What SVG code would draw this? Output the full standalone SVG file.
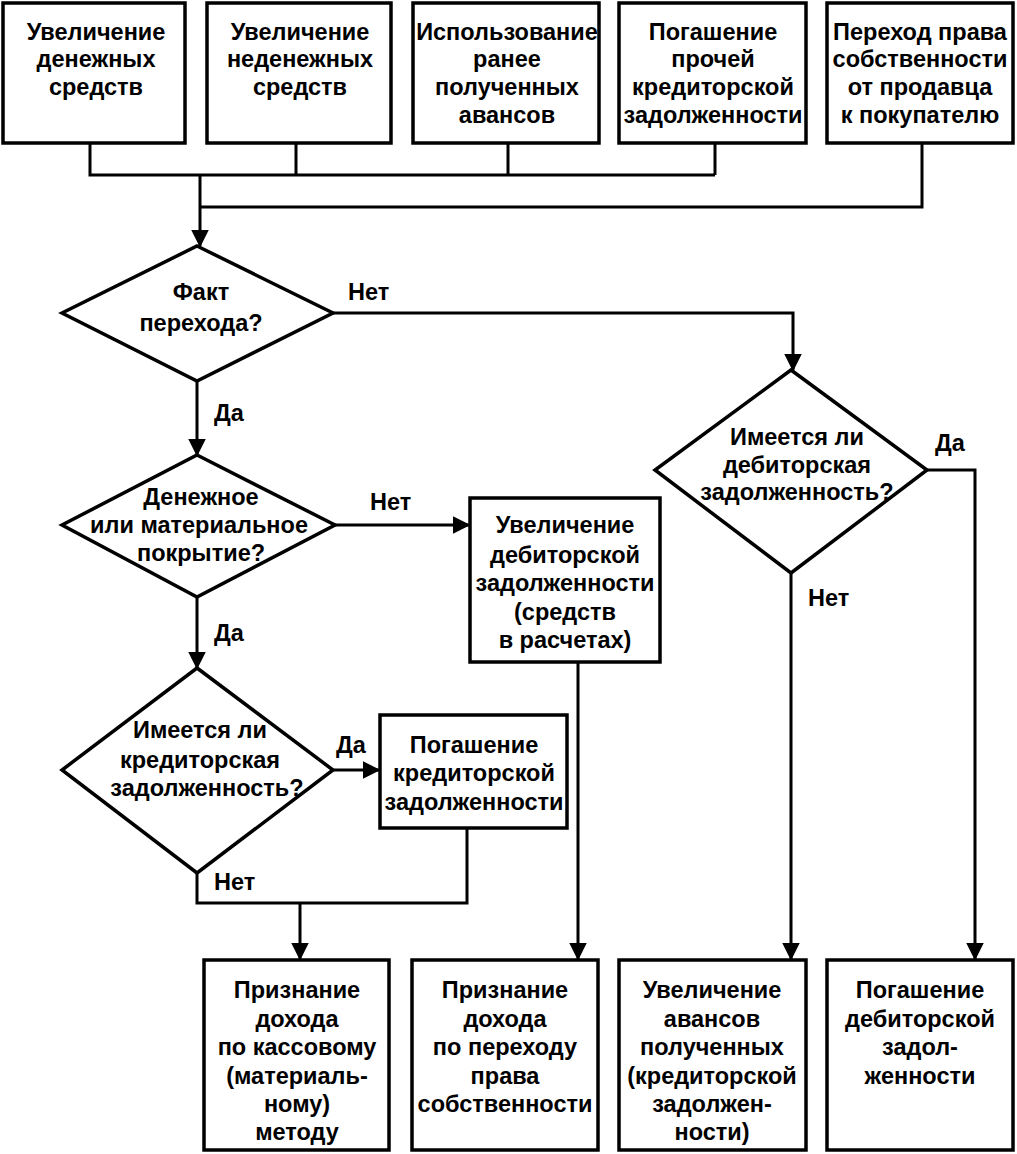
<svg xmlns="http://www.w3.org/2000/svg" width="1017" height="1154" viewBox="0 0 1017 1154">
<defs>
<marker id="ah" markerWidth="6" markerHeight="6" refX="5.5" refY="3" orient="auto" markerUnits="strokeWidth" viewBox="0 0 6 6">
<path d="M0,0 L6,3 L0,6 Z" fill="#000"/>
</marker>
<style>
.box{fill:#fff;stroke:#000;stroke-width:3.5}
.dia{fill:#fff;stroke:#000;stroke-width:3.5;stroke-linejoin:miter}
.ln{fill:none;stroke:#000;stroke-width:3}
.ar{fill:none;stroke:#000;stroke-width:3;marker-end:url(#ah)}
text{font-family:"Liberation Sans",Arial,sans-serif;font-weight:bold;font-size:23.5px;fill:#000;text-anchor:middle}
.lbl{text-anchor:start}
</style>
</defs>
<rect width="1017" height="1154" fill="#fff"/>

<g id="connectors">
<path class="ln" d="M90,143 V175 H715 M296,143 V175 M508,143 V175 M715,143 V175"/>
<path class="ln" d="M922,143 V207 H200"/>
<path class="ar" d="M200,175 V246"/>
<path class="ar" d="M333,313 H793 V370"/>
<path class="ar" d="M197,381 V455"/>
<path class="ar" d="M335,525 H469"/>
<path class="ar" d="M197,597 V668"/>
<path class="ar" d="M333,770 H379"/>
<path class="ln" d="M197,873 V903 H467 V828"/>
<path class="ar" d="M300,903 V959"/>
<path class="ar" d="M578,662 V959"/>
<path class="ar" d="M791,573 V959"/>
<path class="ar" d="M927,470 H975 V959"/>
<text class="lbl" x="348" y="300">Нет</text>
<text class="lbl" x="214" y="421">Да</text>
<text class="lbl" x="370" y="510">Нет</text>
<text class="lbl" x="214" y="641">Да</text>
<text class="lbl" x="336" y="753">Да</text>
<text class="lbl" x="214" y="890">Нет</text>
<text class="lbl" x="935" y="451">Да</text>
<text class="lbl" x="808" y="606">Нет</text>
</g>

<g id="n1"><rect class="box" x="3" y="3" width="182" height="140"/>
<text x="96" y="40">Увеличение</text><text x="96" y="67">денежных</text><text x="96" y="95">средств</text></g>
<g id="n2"><rect class="box" x="207" y="3" width="184" height="140"/>
<text x="300" y="40">Увеличение</text><text x="300" y="67">неденежных</text><text x="300" y="95">средств</text></g>
<g id="n3"><rect class="box" x="413" y="3" width="186" height="140"/>
<text x="507" y="40">Использование</text><text x="507" y="67">ранее</text><text x="507" y="95">полученных</text><text x="507" y="123">авансов</text></g>
<g id="n4"><rect class="box" x="619" y="3" width="187" height="140"/>
<text x="713" y="40">Погашение</text><text x="713" y="67">прочей</text><text x="713" y="95">кредиторской</text><text x="713" y="123">задолженности</text></g>
<g id="n5"><rect class="box" x="827" y="3" width="186" height="140"/>
<text x="920" y="40">Переход права</text><text x="920" y="67">собственности</text><text x="920" y="95">от продавца</text><text x="920" y="123">к покупателю</text></g>

<g id="d1"><polygon class="dia" points="197,246 333,313 197,381 62,313"/>
<text x="201" y="300">Факт</text><text x="201" y="331">перехода?</text></g>
<g id="d2"><polygon class="dia" points="197,455 335,525 197,597 62,525"/>
<text x="201" y="505">Денежное</text><text x="199" y="533">или материальное</text><text x="201" y="561">покрытие?</text></g>
<g id="d3"><polygon class="dia" points="197,668 333,770 197,873 62,770"/>
<text x="200" y="738">Имеется ли</text><text x="200" y="768">кредиторская</text><text x="207" y="796">задолженность?</text></g>
<g id="d4"><polygon class="dia" points="791,370 927,470 791,573 655,470"/>
<text x="797" y="445">Имеется ли</text><text x="797" y="473">дебиторская</text><text x="797" y="500">задолженность?</text></g>

<g id="n6"><rect class="box" x="470" y="498" width="190" height="164"/>
<text x="565" y="533">Увеличение</text><text x="565" y="563">дебиторской</text><text x="565" y="591">задолженности</text><text x="565" y="620">(средств</text><text x="565" y="648">в расчетах)</text></g>
<g id="n7"><rect class="box" x="380" y="715" width="187" height="113"/>
<text x="474" y="753">Погашение</text><text x="474" y="781">кредиторской</text><text x="474" y="810">задолженности</text></g>

<g id="n8"><rect class="box" x="204" y="960" width="185" height="190"/>
<text x="297" y="998">Признание</text><text x="297" y="1027">дохода</text><text x="297" y="1055">по кассовому</text><text x="297" y="1084">(материаль-</text><text x="297" y="1112">ному)</text><text x="297" y="1140">методу</text></g>
<g id="n9"><rect class="box" x="412" y="960" width="186" height="190"/>
<text x="505" y="998">Признание</text><text x="505" y="1027">дохода</text><text x="505" y="1055">по переходу</text><text x="505" y="1084">права</text><text x="505" y="1112">собственности</text></g>
<g id="n10"><rect class="box" x="619" y="960" width="187" height="190"/>
<text x="712" y="998">Увеличение</text><text x="712" y="1027">авансов</text><text x="712" y="1055">полученных</text><text x="712" y="1084">(кредиторской</text><text x="712" y="1112">задолжен-</text><text x="712" y="1140">ности)</text></g>
<g id="n11"><rect class="box" x="827" y="960" width="186" height="190"/>
<text x="920" y="998">Погашение</text><text x="920" y="1027">дебиторской</text><text x="920" y="1055">задол-</text><text x="920" y="1084">женности</text></g>
</svg>
